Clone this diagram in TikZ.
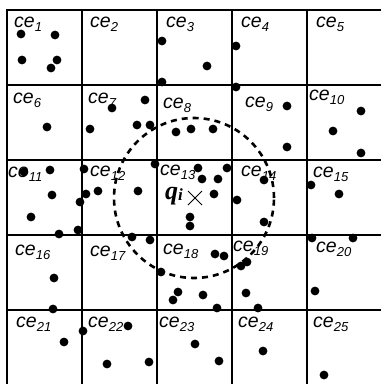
\documentclass[tikz,border=0pt]{standalone}
\usepackage{fontspec}
\newfontfamily\labsans{Liberation Sans}
\newfontfamily\labserif{Liberation Serif}
\newcommand{\celab}[4]{\node[celabel] (#1) at (#2,#3) {ce\raisebox{-4pt}{\subfnt #4}};}
\newcommand{\subfnt}{\fontsize{13}{13}\selectfont}
\begin{document}
\begin{tikzpicture}[x=1pt,y=-1pt,
  gridline/.style={line width=2.4pt,line cap=rect},
  celabel/.style={anchor=base west,inner sep=0pt,font=\labsans\itshape\fontsize{19.5}{20}\selectfont},
  dotfill/.style={fill=black},
  queryrange/.style={line width=2.6pt,dash pattern=on 6pt off 5pt},
  crossline/.style={line width=0.8pt}]
\useasboundingbox (0,0) rectangle (381,384);
\clip (0,0) rectangle (381,384);
\fill[white] (0,0) rectangle (381,384);
\foreach \i in {0,...,5} {
  \draw[gridline] ({7+75*\i},10) -- ({7+75*\i},385);
  \draw[gridline] (7,{10+75*\i}) -- (382,{10+75*\i});
}
% labels
\celab{c1}{14}{27}{1}
\celab{c2}{90}{27}{2}
\celab{c3}{166}{27}{3}
\celab{c4}{241}{27}{4}
\celab{c5}{316}{27}{5}
\celab{c6}{13}{103}{6}
\celab{c7}{88}{103}{7}
\celab{c8}{163}{108}{8}
\celab{c9}{245}{107}{9}
\celab{c10}{309}{100}{10}
\celab{c11}{8}{177}{11}
\celab{c12}{90}{176}{12}
\celab{c13}{160}{175}{13}
\celab{c14}{241}{176}{14}
\celab{c15}{313}{177}{15}
\celab{c16}{15}{255}{16}
\celab{c17}{90}{256}{17}
\celab{c18}{163}{254}{18}
\celab{c19}{233}{251}{19}
\celab{c20}{316}{252}{20}
\celab{c21}{16}{327}{21}
\celab{c22}{88}{327}{22}
\celab{c23}{159}{327}{23}
\celab{c24}{238}{327}{24}
\celab{c25}{313}{327}{25}
% dots
\foreach \p in {(21,34),(55,35),(22,60),(57,60),(51,68),
  (162,41),(207,66),(162,82),(236,46),(236,87),
  (47,127),(145,100),(112,108),(90,129),(137,125),(150,125),
  (176,132),(191,129),(213,129),(287,106),(287,147),
  (361,111),(333,131),(361,153),
  (24,172),(50,170),(84,169),(155,164),(52,195),(80,202),(86,194),(98,191),
  (31,217),(59,234),(78,230),(138,191),
  (198,168),(202,179),(218,179),(227,168),(214,194),(190,217),(190,226),
  (264,180),(237,200),(264,222),(311,185),(339,194),
  (132,237),(150,240),(161,272),(215,254),(224,256),(178,292),(173,300),(203,295),(217,308),
  (54,278),(53,309),(241,266),(247,262),(246,293),(258,308),
  (312,238),(353,238),(315,291),
  (64,342),(83,331),(128,326),(107,364),(149,362),
  (195,344),(219,361),(263,351),(324,375)}
  \fill[dotfill] \p circle[radius=4.4pt];
% query range
\coordinate (qc) at (194,198);
\draw[queryrange] (qc) circle[radius=80pt];
\draw[crossline] (188,191) -- (202,205) (188,205) -- (202,191);
\node[anchor=base west,inner sep=0pt,text height=12pt,text depth=5pt,font=\labserif\bfseries\itshape\fontsize{26}{26}\selectfont] (qi) at (165,199) {q\raisebox{-1pt}{\fontsize{17}{17}\selectfont i}};
\end{tikzpicture}
\end{document}
